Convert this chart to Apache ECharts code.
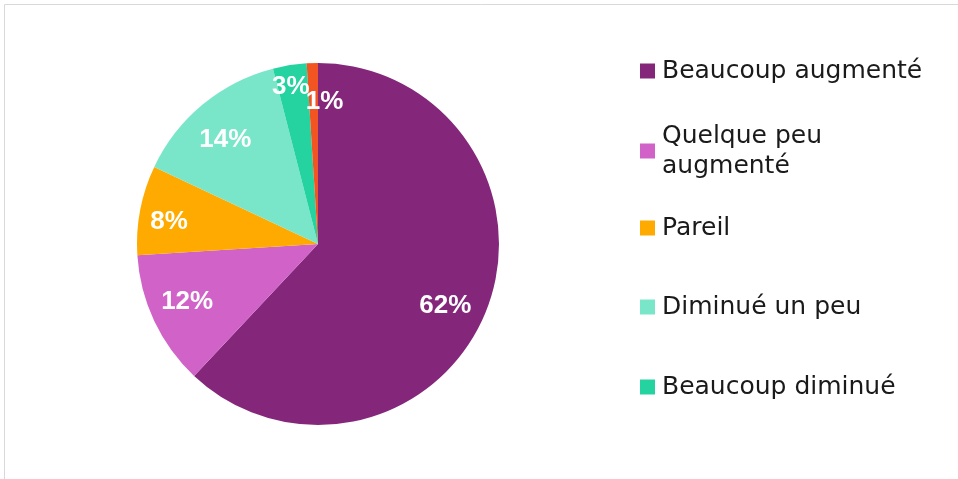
<!DOCTYPE html>
<html lang="fr">
<head>
	<meta charset="UTF-8">
	<title>Répartition</title>
	<script src="https://cdn.jsdelivr.net/npm/echarts@6/dist/echarts.min.js"></script>
	<style>
		html, body { margin: 0; padding: 0; background: #fff; }
		#main { width: 958px; height: 479px; }
	</style>
</head>
<body>
	<div id="main"></div>
	<script>
		// données
		const categories = ['Beaucoup augmenté', 'Quelque peu augmenté', 'Pareil', 'Diminué un peu', 'Beaucoup diminué', 'Autre'];
		const values = [62, 12, 8, 14, 3, 1];
		const colors = ['#84277a', '#d062c8', '#ffaa00', '#7ae6c9', '#24d3a0', '#f25522'];
		const legendNames = categories.slice(0, 5);

		// petits décalages des étiquettes (placement façon Excel)
		const labelShift = {
			'Beaucoup augmenté': [-5, 9],
			'Quelque peu augmenté': [-2, -3],
			'Pareil': [-9, 5],
			'Diminué un peu': [-2, 6],
			'Beaucoup diminué': [-5, -17],
			'Autre': [11, 0]
		};

		const R = 181;
		const font = 'DejaVu Sans';

		const pieData = categories.map((name, i) => ({
			name: name,
			value: values[i],
			itemStyle: { color: colors[i] }
		}));
		const labelData = categories.map((name, i) => ({
			name: name,
			value: values[i],
			label: { offset: labelShift[name] || [0, 0] }
		}));

		// une légende par ligne pour aligner le carré sur la première ligne du texte
		const legendTops = [56, 106, 213, 292, 372];
		const legends = legendNames.map((name, i) => {
			const twoLines = name === 'Quelque peu augmenté';
			return {
				orient: 'vertical',
				left: 640,
				top: legendTops[i],
				padding: 0,
				itemWidth: 15,
				itemHeight: 15,
				icon: 'rect',
				selectedMode: false,
				data: [name],
				formatter: n => n === 'Quelque peu augmenté' ? 'Quelque peu\naugmenté' : n,
				textStyle: {
					fontFamily: font,
					fontSize: 25,
					color: '#1a1a1a',
					lineHeight: 30,
					padding: twoLines ? [30, 0, 0, 2] : [0, 0, 0, 2]
				}
			};
		});

		const myChart = echarts.init(document.getElementById('main'));
		myChart.setOption({
			animation: false,
			backgroundColor: '#fff',
			graphic: [{
				type: 'rect',
				shape: { x: 4.5, y: 4.5, width: 970, height: 490 },
				style: { fill: 'none', stroke: '#d9d9d9', lineWidth: 1 },
				silent: true
			}],
			legend: legends,
			series: [
				{
					type: 'pie',
					center: [318, 244],
					radius: [0, R],
					startAngle: 90,
					clockwise: true,
					label: { show: false },
					labelLine: { show: false },
					itemStyle: { borderWidth: 0 },
					data: pieData
				},
				{
					type: 'pie',
					center: [318, 244],
					radius: [R * 0.54, R],
					startAngle: 90,
					clockwise: true,
					silent: true,
					avoidLabelOverlap: false,
					legendHoverLink: false,
					labelLayout: { hideOverlap: false },
					itemStyle: { color: 'rgba(0,0,0,0)' },
					label: {
						show: true,
						position: 'inside',
						formatter: '{c}%',
						color: '#fff',
						fontFamily: 'Liberation Sans',
						fontWeight: 'bold',
						fontSize: 26
					},
					labelLine: { show: false },
					data: labelData
				}
			]
		});
	</script>
</body>
</html>
